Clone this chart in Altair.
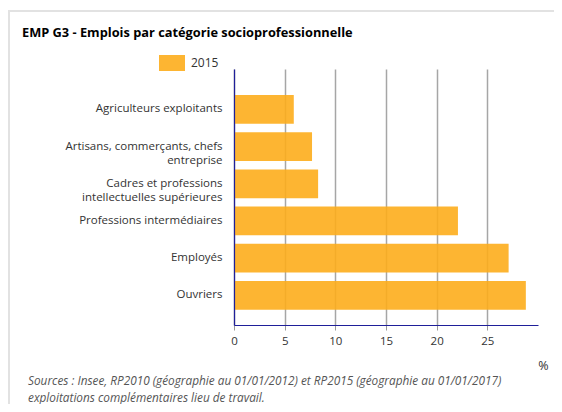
import altair as alt
import pandas as pd

categories = [
    "Agriculteurs exploitants",
    "Artisans, commerçants, chefs\nentreprise",
    "Cadres et professions\nintellectuelles supérieures",
    "Professions intermédiaires",
    "Employés",
    "Ouvriers",
]
values_2015 = [5.9, 7.7, 8.3, 22.1, 27.1, 28.8]
series = "2015"
x_ticks = [0, 5, 10, 15, 20, 25]
title_text = "EMP G3 - Emplois par catégorie socioprofessionnelle"
source_lines = [
    "Sources : Insee, RP2010 (géographie au 01/01/2012) et RP2015 (géographie au 01/01/2017)",
    "exploitations complémentaires lieu de travail.",
]

FONT = "Open Sans"
AXIS_BLUE = "#1f1f99"

df = pd.DataFrame({
    "categorie": categories,
    "valeur": values_2015,
    "annee": [series] * len(categories),
})

bars = alt.Chart(df).mark_bar(opacity=0.9).encode(
    y=alt.Y(
        "categorie:N",
        sort=categories,
        title=None,
        scale=alt.Scale(paddingInner=0.228, paddingOuter=0.555, align=0.63),
        axis=alt.Axis(
            labelExpr="split(datum.label, '\\n')",
            ticks=False,
            labelPadding=12,
            domainColor=AXIS_BLUE,
            domainWidth=1.2,
            labelFont=FONT,
            labelFontSize=11.5,
            labelColor="#333333",
            labelLineHeight=14,
            labelLimit=300,
            grid=False,
            zindex=1,
        ),
    ),
    x=alt.X(
        "valeur:Q",
        scale=alt.Scale(domain=[0, 30], nice=False),
        title="%",
        axis=alt.Axis(
            values=x_ticks,
            grid=True,
            gridColor="#a6a6a6",
            gridWidth=1.5,
            domainColor=AXIS_BLUE,
            domainWidth=1.2,
            tickColor="#999999",
            tickSize=5,
            labelFont=FONT,
            labelFontSize=11.5,
            labelColor="#333333",
            labelPadding=5,
            labelFlush=False,
            titleX=309,
            titleY=40,
            titleAlign="center",
            titleBaseline="middle",
            titleFont=FONT,
            titleFontSize=12.5,
            titleFontWeight="normal",
            titleColor="#333333",
        ),
    ),
    color=alt.Color(
        "annee:N",
        scale=alt.Scale(range=["#FDAD1C"]),
        legend=alt.Legend(
            title=None,
            orient="none",
            legendX=-75,
            legendY=-19,
            symbolType="M-1,-0.615H1V0.615H-1Z",
            symbolSize=676,
            symbolStrokeWidth=0,
            labelFont=FONT,
            labelFontSize=12,
            labelColor="#333333",
            labelOffset=6,
            padding=0,
        ),
    ),
)

one = pd.DataFrame({"k": [0]})

title = alt.Chart(one).mark_text(
    text=title_text, align="left", baseline="middle",
    font=FONT, fontSize=12.8, fontWeight="bold", color="#000000",
).encode(x=alt.value(-212), y=alt.value(-36))

source = alt.Chart(one).mark_text(
    text=source_lines, align="left", baseline="middle",
    font=FONT, fontSize=11.8, fontStyle="italic", color="#555555", lineHeight=17,
).encode(x=alt.value(-206), y=alt.value(312))

frame_top = alt.Chart(one).mark_rule(stroke="#e2e2e2", strokeWidth=2).encode(
    x=alt.value(-226), x2=alt.value(400), y=alt.value(-58),
)
frame_left = alt.Chart(one).mark_rule(stroke="#e2e2e2", strokeWidth=2).encode(
    x=alt.value(-225), y=alt.value(-59), y2=alt.value(400),
)

chart = alt.layer(frame_top, frame_left, bars, title, source).properties(
    width=304,
    height=256,
    padding={"left": 226, "top": 61, "right": 16, "bottom": 79},
    autosize=alt.AutoSizeParams(type="none"),
).configure_view(stroke=None)

chart.save("out.html", embed_options={"renderer": "svg", "actions": False})
